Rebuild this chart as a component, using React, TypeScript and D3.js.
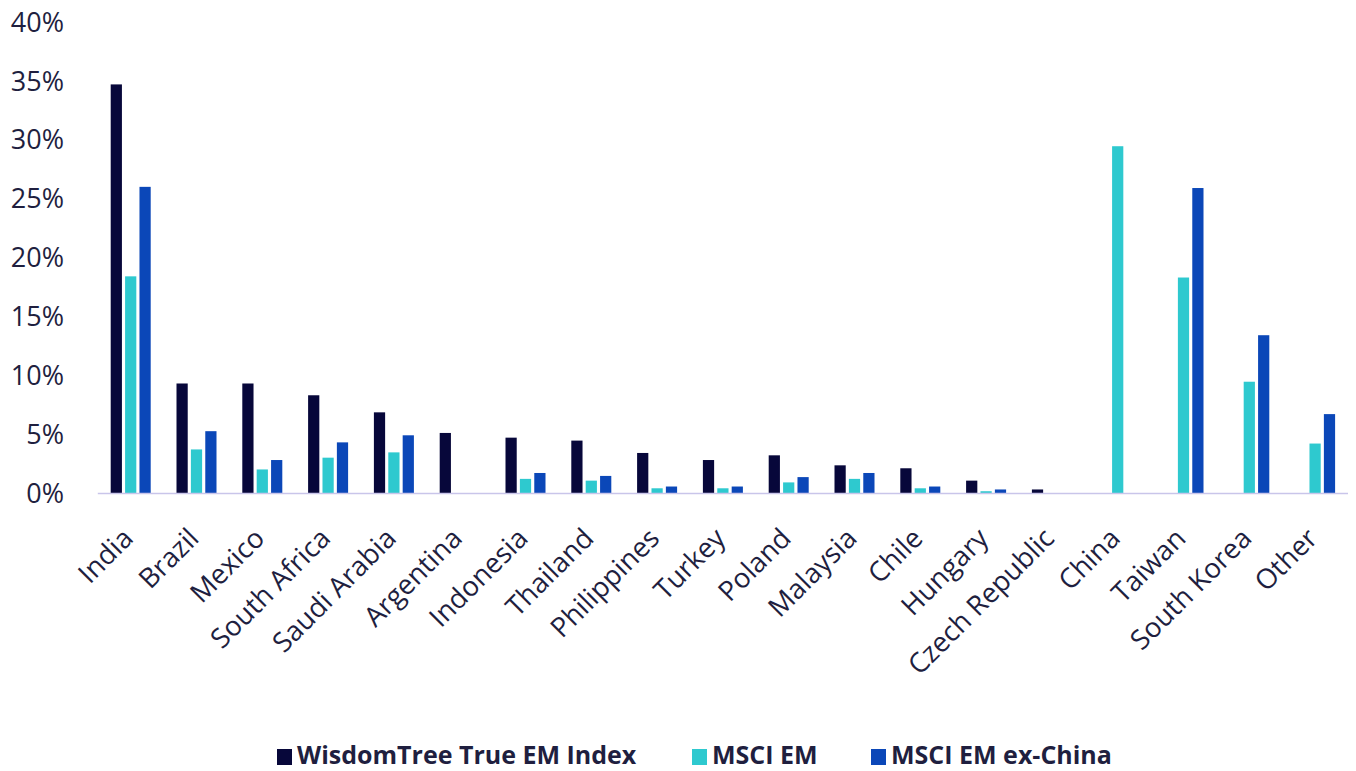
import React, { useEffect, useRef } from "react";
import * as d3 from "d3";

const categories = [
  "India", "Brazil", "Mexico", "South Africa", "Saudi Arabia", "Argentina",
  "Indonesia", "Thailand", "Philippines", "Turkey", "Poland", "Malaysia",
  "Chile", "Hungary", "Czech Republic", "China", "Taiwan", "South Korea", "Other",
];
const seriesNames = ["WisdomTree True EM Index", "MSCI EM", "MSCI EM ex-China"];
const wisdomTree = [34.7, 9.3, 9.3, 8.3, 6.85, 5.1, 4.7, 4.45, 3.4, 2.8, 3.2, 2.35, 2.1, 1.05, 0.3, 0, 0, 0, 0];
const msciEM = [18.4, 3.7, 2.0, 3.0, 3.45, 0, 1.2, 1.05, 0.4, 0.4, 0.9, 1.2, 0.4, 0.15, 0, 29.45, 18.3, 9.45, 4.2];
const msciExChina = [26.0, 5.25, 2.8, 4.3, 4.9, 0, 1.7, 1.45, 0.55, 0.55, 1.35, 1.7, 0.55, 0.3, 0, 0, 25.9, 13.4, 6.7];
const yTicks = [0, 5, 10, 15, 20, 25, 30, 35, 40];
const colors = ["#07073a", "#2ec9cf", "#0b47b8"];

const W = 1356;
const H = 771;

export default function App() {
  const ref = useRef<SVGSVGElement | null>(null);

  useEffect(() => {
    const svg = d3.select(ref.current);
    svg.selectAll("*").remove();

    const x0 = 97.8;
    const x1 = 97.8 + 19 * 65.8;
    const yTop = 22;
    const yBase = 493;

    const x = d3.scaleBand<string>().domain(categories).range([x0, x1]).padding(0);
    const inner = d3.scaleBand<string>().domain(seriesNames).range([0, 40]).paddingInner(0.22);
    const y = d3.scaleLinear().domain([0, 40]).range([yBase, yTop]);

    const data = [wisdomTree, msciEM, msciExChina];
    const textColor = "#1f1f3f";

    // y tick labels
    svg.append("g")
      .selectAll("text")
      .data(yTicks)
      .join("text")
      .attr("x", 64)
      .attr("y", (d) => y(d))
      .attr("dy", "0.36em")
      .attr("text-anchor", "end")
      .attr("font-family", "'Open Sans', sans-serif")
      .attr("font-size", 27)
      .attr("fill", textColor)
      .text((d) => `${d}%`);

    // bars
    const g = svg.append("g");
    data.forEach((vals, si) => {
      g.append("g")
        .selectAll("rect")
        .data(categories.map((c, i) => ({ c, v: vals[i] })).filter((d) => d.v > 0))
        .join("rect")
        .attr("x", (d) => (x(d.c) as number) + x.bandwidth() / 2 - 20 + (inner(seriesNames[si]) as number))
        .attr("y", (d) => y(d.v))
        .attr("width", inner.bandwidth())
        .attr("height", (d) => yBase - y(d.v))
        .attr("fill", colors[si]);
    });

    // axis line
    svg.append("line")
      .attr("x1", x0)
      .attr("x2", x1)
      .attr("y1", yBase + 0.5)
      .attr("y2", yBase + 0.5)
      .attr("stroke", "#c9c5ea")
      .attr("stroke-width", 1.5);

    // category labels
    svg.append("g")
      .selectAll("text")
      .data(categories)
      .join("text")
      .attr("transform", (d) => {
        const cx = (x(d) as number) + x.bandwidth() / 2 + 4;
        return `translate(${cx},${yBase + 47}) rotate(-45)`;
      })
      .attr("text-anchor", "end")
      .attr("font-family", "'Open Sans', sans-serif")
      .attr("font-size", 27.5)
      .attr("fill", textColor)
      .text((d) => d);

    // legend
    const legendItems = [
      { name: seriesNames[0], sx: 277 },
      { name: seriesNames[1], sx: 692 },
      { name: seriesNames[2], sx: 871 },
    ];
    const lg = svg.append("g");
    legendItems.forEach((it, i) => {
      lg.append("rect")
        .attr("x", it.sx)
        .attr("y", 749)
        .attr("width", 15)
        .attr("height", 16)
        .attr("fill", colors[i]);
      lg.append("text")
        .attr("x", it.sx + 20)
        .attr("y", 755)
        .attr("dy", "0.36em")
        .attr("font-family", "'Open Sans', sans-serif")
        .attr("font-weight", 700)
        .attr("font-size", 25)
        .attr("fill", textColor)
        .text(it.name);
    });
  }, []);

  return (
    <svg
      ref={ref}
      width={W}
      height={H}
      style={{ position: "absolute", left: 0, top: 0, background: "#ffffff" }}
    />
  );
}
